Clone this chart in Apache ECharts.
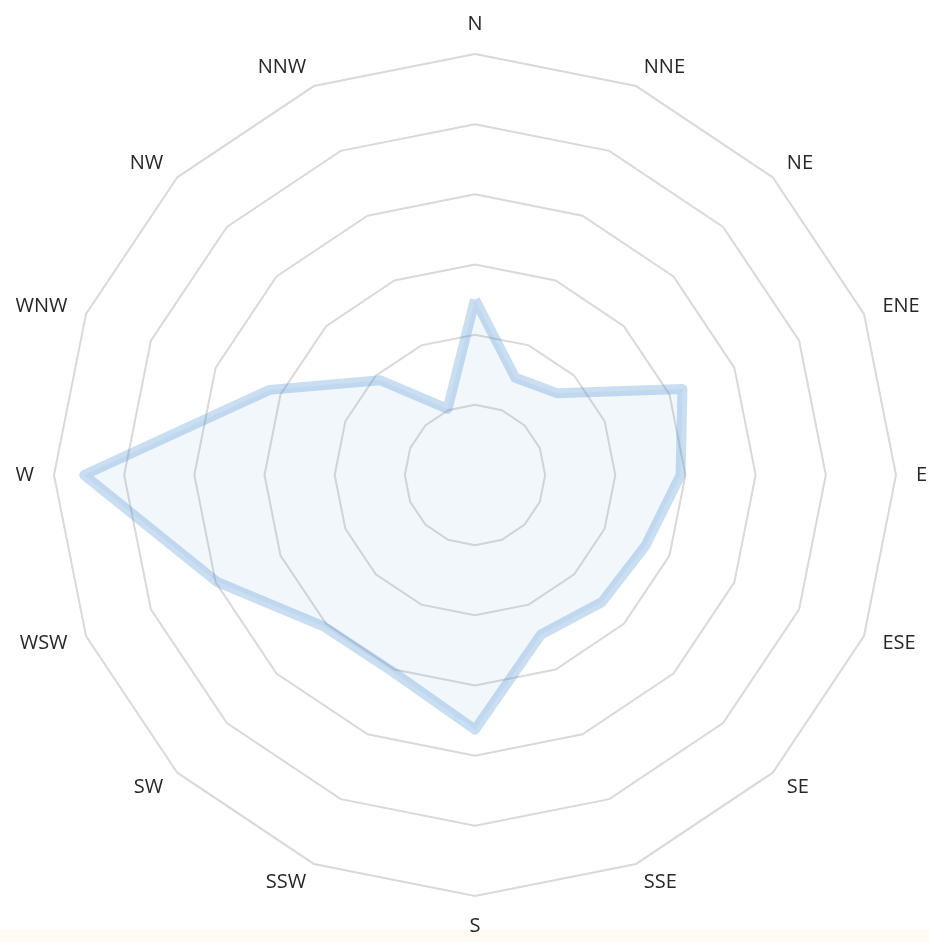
<!DOCTYPE html>
<html>
<head>
<meta charset="utf-8">
<script src="https://cdn.jsdelivr.net/npm/echarts@6/dist/echarts.min.js"></script>
<style>html,body{margin:0;padding:0;background:#fff;}#c{width:929px;height:942px;}</style>
</head>
<body>
<div id="c"></div>
<script>
// Directions in clockwise order starting from North
const directions = ['N','NNE','NE','ENE','E','ESE','SE','SSE','S','SSW','SW','WSW','W','WNW','NW','NNW'];
// Values (axis 0..6, 6 rings)
const values = [2.5, 1.5, 1.65, 3.2, 2.93, 2.63, 2.56, 2.46, 3.63, 3.04, 3.05, 3.98, 5.57, 3.17, 1.91, 1.02];
const axisMax = 6;
const rings = 6;

// ECharts lays radar indicators out counter-clockwise; reorder so they read clockwise.
const order = [0].concat(directions.map((d, i) => i).slice(1).reverse());
const indicator = order.map(i => ({ name: directions[i], min: 0, max: axisMax }));
const seriesValues = order.map(i => values[i]);

const chart = echarts.init(document.getElementById('c'));
chart.setOption({
  backgroundColor: '#ffffff',
  animation: false,
  graphic: [{
    type: 'rect', left: 0, top: 929, shape: { width: 929, height: 13 },
    style: { fill: '#fffaf3' }, silent: true
  }],
  radar: {
    center: [475, 475],
    radius: 421,
    startAngle: 90,
    shape: 'polygon',
    splitNumber: rings,
    indicator: indicator,
    nameGap: 20,
    axisName: { color: '#262626', fontSize: 20, fontFamily: 'Open Sans' },
    axisLine: { show: false },
    axisTick: { show: false },
    axisLabel: { show: false },
    splitArea: { show: false },
    splitLine: { lineStyle: { color: '#d9d9d9', width: 2 } }
  },
  series: [{
    type: 'radar',
    symbol: 'none',
    lineStyle: { color: 'rgba(91,155,213,0.33)', width: 10, join: 'round' },
    areaStyle: { color: 'rgba(91,155,213,0.11)' },
    data: [{ value: seriesValues, name: 'Wind' }]
  }]
});
</script>
</body>
</html>
